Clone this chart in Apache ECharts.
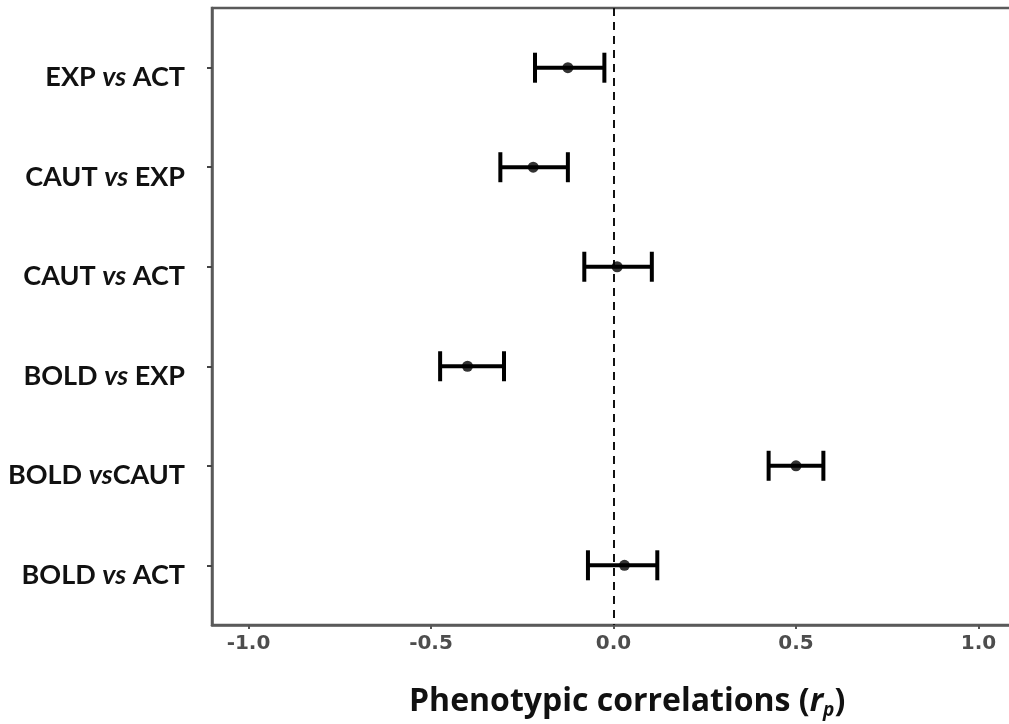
<!DOCTYPE html>
<html>
<head>
<meta charset="utf-8">
<script src="https://cdn.jsdelivr.net/npm/echarts@6/dist/echarts.min.js"></script>
<style>
  html, body { margin: 0; padding: 0; background: #ffffff; }
  #chart { width: 1009px; height: 724px; }
</style>
</head>
<body>
<div id="chart"></div>
<script>
// Trait pairs, listed top to bottom: [first trait, second trait, gap after "vs"]
const pairs = [
  ['EXP', 'ACT', ' '],
  ['CAUT', 'EXP', ' '],
  ['CAUT', 'ACT', ' '],
  ['BOLD', 'EXP', ' '],
  ['BOLD', 'CAUT', ''],
  ['BOLD', 'ACT', ' ']
];
// Phenotypic correlation estimates with their interval bounds
const estimates = [-0.125, -0.22, 0.01, -0.40, 0.50, 0.03];
const lower     = [-0.215, -0.31, -0.08, -0.475, 0.425, -0.07];
const upper     = [-0.025, -0.125, 0.105, -0.30, 0.575, 0.12];
const xTicks    = [-1.0, -0.5, 0.0, 0.5, 1.0];

const rowPos = pairs.map((p, i) => i + 1);

const chart = echarts.init(document.getElementById('chart'));

const labelFont = 'Lato';
const titleFont = 'Open Sans';

chart.setOption({
  animation: false,
  backgroundColor: '#ffffff',
  grid: {
    left: 212, top: 8, width: 803, height: 617,
    outerBoundsMode: 'none',
    show: true, borderColor: '#5a5a5a', borderWidth: 2.5,
    containLabel: false
  },
  title: {
    text: '{b|Phenotypic correlations (}{i|r}{s|p}{b|)}',
    left: 404, top: 679,
    textStyle: {
      rich: {
        b: { fontFamily: titleFont, fontWeight: 'bold', fontSize: 32, color: '#111' },
        i: { fontFamily: titleFont, fontWeight: 'bold', fontStyle: 'italic', fontSize: 32, color: '#111' },
        s: { fontFamily: titleFont, fontWeight: 'bold', fontStyle: 'italic', fontSize: 19, color: '#111', padding: [17, 0, 0, 0] }
      }
    }
  },
  xAxis: {
    type: 'value',
    min: -1.1, max: 1.1,
    splitLine: { show: false },
    axisLine: { show: true, onZero: false, lineStyle: { color: '#5a5a5a', width: 2.5 } },
    axisTick: { show: true, customValues: xTicks, length: 4, lineStyle: { color: '#555', width: 2 } },
    axisLabel: {
      customValues: xTicks,
      formatter: v => Number(v).toFixed(1),
      fontFamily: 'DejaVu Sans', fontWeight: 'bold', fontSize: 20,
      color: '#4d4d4d', margin: 9
    }
  },
  yAxis: {
    type: 'value',
    min: 0.4, max: 6.6,
    inverse: true,
    splitLine: { show: false },
    axisLine: { show: true, onZero: false, lineStyle: { color: '#5a5a5a', width: 2.5 } },
    axisTick: { show: true, customValues: rowPos, length: 5, lineStyle: { color: '#444', width: 2 } },
    axisLabel: {
      customValues: rowPos,
      margin: 27,
      padding: [20, 0, 0, 0],
      formatter: v => {
        const p = pairs[Math.round(v) - 1];
        return p ? '{b|' + p[0] + ' }{i|vs}{b|' + p[2] + p[1] + '}' : '';
      },
      rich: {
        b: { fontFamily: labelFont, fontWeight: 'bold', fontSize: 27, color: '#111' },
        i: { fontFamily: labelFont, fontWeight: 'bold', fontStyle: 'italic', fontSize: 27, color: '#111' }
      }
    }
  },
  series: [
    {
      // interval whiskers with end caps
      type: 'custom',
      data: estimates.map((e, i) => [lower[i], upper[i], rowPos[i]]),
      renderItem: (params, api) => {
        const a = api.coord([api.value(0), api.value(2)]);
        const b = api.coord([api.value(1), api.value(2)]);
        const half = 15;
        const style = { stroke: '#000', lineWidth: 4 };
        return {
          type: 'group',
          children: [
            { type: 'line', shape: { x1: a[0], y1: a[1], x2: b[0], y2: b[1] }, style },
            { type: 'line', shape: { x1: a[0], y1: a[1] - half, x2: a[0], y2: a[1] + half }, style },
            { type: 'line', shape: { x1: b[0], y1: b[1] - half, x2: b[0], y2: b[1] + half }, style }
          ]
        };
      },
      z: 3
    },
    {
      // point estimates
      type: 'scatter',
      data: estimates.map((e, i) => [e, rowPos[i]]),
      symbol: 'circle',
      symbolSize: 11,
      itemStyle: { color: '#000' },
      z: 4,
      markLine: {
        silent: true,
        symbol: 'none',
        label: { show: false },
        lineStyle: { color: '#111', type: [8, 6], width: 2 },
        data: [{ xAxis: 0 }],
        z: 2
      }
    }
  ]
});
</script>
</body>
</html>
